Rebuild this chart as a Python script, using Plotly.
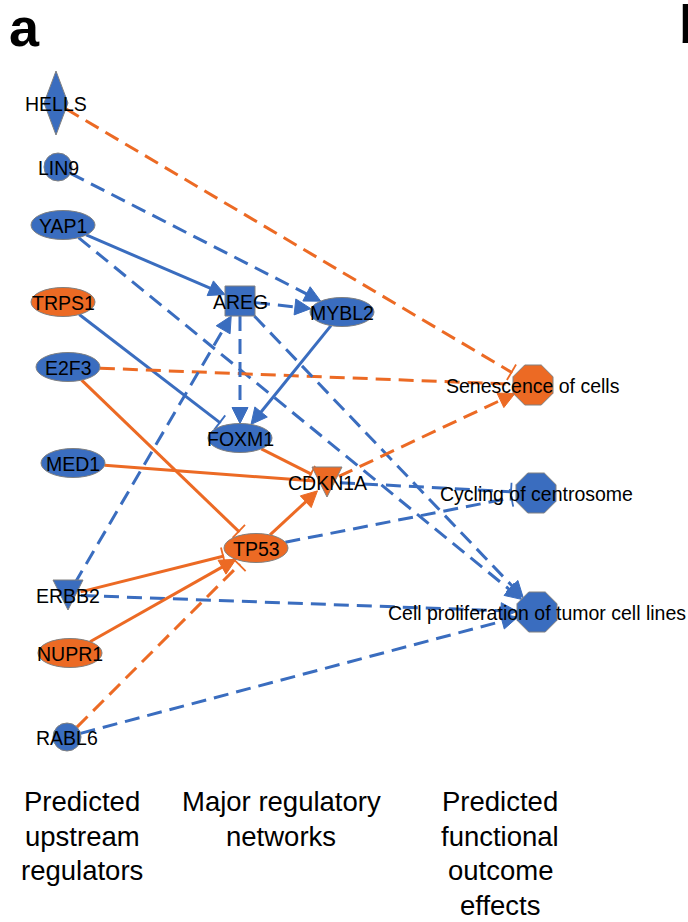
import math
import plotly.graph_objects as go

# ---------------- data ----------------
node_names = ["HELLS", "LIN9", "YAP1", "TRPS1", "E2F3", "MED1", "ERBB2", "NUPR1", "RABL6",
              "AREG", "MYBL2", "FOXM1", "CDKN1A", "TP53",
              "Senescence of cells", "Cycling of centrosome",
              "Cell proliferation of tumor cell lines"]
node_x = [56, 58, 63, 63, 68, 73, 68, 70, 67, 240, 342, 240, 327, 256, 533, 536, 537]
node_y = [103, 167, 225, 302, 367, 463, 595, 653, 737, 301, 312, 438, 482, 548, 385, 493, 612]
node_shape = ["diamond", "circle", "ellipse", "ellipse", "ellipse", "ellipse", "triangle",
              "ellipse", "circle", "square", "ellipse", "ellipse", "triangle", "ellipse",
              "octagon", "octagon", "octagon"]
node_state = ["down", "down", "down", "up", "down", "down", "down", "up", "down",
              "down", "down", "down", "up", "up", "up", "down", "down"]

edge_source = ["HELLS", "LIN9", "YAP1", "YAP1", "TRPS1", "E2F3", "E2F3", "MED1", "FOXM1",
               "AREG", "AREG", "AREG", "MYBL2", "ERBB2", "ERBB2", "ERBB2", "NUPR1",
               "RABL6", "RABL6", "TP53", "CDKN1A", "CDKN1A", "TP53"]
edge_target = ["Senescence of cells", "MYBL2", "AREG", "Cell proliferation of tumor cell lines",
               "FOXM1", "Senescence of cells", "TP53", "CDKN1A", "CDKN1A",
               "MYBL2", "FOXM1", "Cell proliferation of tumor cell lines", "FOXM1",
               "AREG", "TP53", "Cell proliferation of tumor cell lines", "TP53",
               "TP53", "Cell proliferation of tumor cell lines", "CDKN1A",
               "Senescence of cells", "Cycling of centrosome", "Cycling of centrosome"]
edge_state = ["up", "down", "down", "down", "down", "up", "up", "up", "up",
              "down", "down", "down", "down", "down", "up", "down", "up",
              "up", "down", "up", "up", "down", "down"]
edge_predicted = [True, True, False, True, False, True, False, False, False,
                  True, True, True, False, True, False, True, False,
                  True, True, False, True, True, True]
edge_effect = ["inhibit", "activate", "activate", "activate", "inhibit", "none", "inhibit",
               "none", "inhibit", "activate", "activate", "activate", "activate",
               "activate", "inhibit", "activate", "activate", "inhibit", "activate",
               "activate", "activate", "inhibit", "inhibit"]

column_x = [82, 281, 500]
column_lines = [["Predicted", "upstream", "regulators"],
                ["Major regulatory", "networks"],
                ["Predicted", "functional", "outcome", "effects"]]
line_y = [801, 836, 870, 905]

# ---------------- styling ----------------
BLUE = "#3a6dbf"
ORANGE = "#ec6a24"
OUTLINE = "#808080"
FONT = "Liberation Sans, Arial, sans-serif"
col = {"up": ORANGE, "down": BLUE}

half = {"diamond": (12, 32), "circle": (14, 14), "ellipse": (32, 14.5), "triangle": (15, 15),
        "square": (15, 15), "octagon": (20, 20)}

idx = {n: i for i, n in enumerate(node_names)}


def boundary(i, ux, uy):
    """distance from node centre to its outline along unit direction (ux, uy)"""
    s = node_shape[i]
    a, b = half[s]
    if s == "diamond":
        return 1.0 / (abs(ux) / a + abs(uy) / b)
    if s == "square":
        return 1.0 / max(abs(ux) / a, abs(uy) / b)
    if s == "triangle":
        return 13.0
    return 1.0 / math.sqrt((ux / a) ** 2 + (uy / b) ** 2)


fig = go.Figure()

AL, AW = 16, 8      # arrowhead length / half width
TB, TG = 9, 5       # T-bar half length / gap

for s, t, st, pr, ef in zip(edge_source, edge_target, edge_state, edge_predicted, edge_effect):
    i, j = idx[s], idx[t]
    x0, y0, x1, y1 = node_x[i], node_y[i], node_x[j], node_y[j]
    L = math.hypot(x1 - x0, y1 - y0)
    ux, uy = (x1 - x0) / L, (y1 - y0) / L
    px, py = -uy, ux
    d0 = boundary(i, ux, uy)
    d1 = boundary(j, -ux, -uy)
    sx, sy = x0 + ux * d0, y0 + uy * d0
    ex, ey = x1 - ux * d1, y1 - uy * d1
    c = col[st]
    if ef == "activate":
        lx, ly = ex - ux * AL, ey - uy * AL
    elif ef == "inhibit":
        lx, ly = ex - ux * TG, ey - uy * TG
    else:
        lx, ly = ex, ey
    fig.add_trace(go.Scatter(x=[sx, lx + ux * 1.0], y=[sy, ly + uy * 1.0], mode="lines",
                             line=dict(color=c, width=3, dash="15px,8px" if pr else "solid"),
                             hoverinfo="skip", showlegend=False))
    if ef == "activate":
        bx, by = ex - ux * AL, ey - uy * AL
        fig.add_trace(go.Scatter(x=[ex, bx + px * AW, bx - px * AW, ex],
                                 y=[ey, by + py * AW, by - py * AW, ey],
                                 mode="lines", fill="toself", fillcolor=c,
                                 line=dict(color=c, width=1), hoverinfo="skip",
                                 showlegend=False))
    elif ef == "inhibit":
        fig.add_trace(go.Scatter(x=[lx + px * TB, lx - px * TB], y=[ly + py * TB, ly - py * TB],
                                 mode="lines", line=dict(color=c, width=1.8),
                                 hoverinfo="skip", showlegend=False))

shapes = []
for i, n in enumerate(node_names):
    cx, cy = node_x[i], node_y[i]
    s = node_shape[i]
    a, b = half[s]
    fc = col[node_state[i]]
    ln = dict(color=OUTLINE, width=1)
    if s in ("ellipse", "circle"):
        shapes.append(dict(type="circle", xref="x", yref="y", x0=cx - a, x1=cx + a,
                           y0=cy - b, y1=cy + b, fillcolor=fc, line=ln, layer="above"))
    elif s == "square":
        shapes.append(dict(type="rect", xref="x", yref="y", x0=cx - a, x1=cx + a,
                           y0=cy - b, y1=cy + b, fillcolor=fc, line=ln, layer="above"))
    else:
        if s == "diamond":
            pts = [(cx, cy - b), (cx + a, cy), (cx, cy + b), (cx - a, cy)]
        elif s == "triangle":
            pts = [(cx - a, cy - b), (cx + a, cy - b), (cx, cy + b)]
        else:
            r = a / math.cos(math.pi / 8)
            pts = [(cx + r * math.cos(math.pi / 8 + k * math.pi / 4),
                    cy + r * math.sin(math.pi / 8 + k * math.pi / 4)) for k in range(8)]
        path = "M " + " L ".join(f"{px_:.2f},{py_:.2f}" for px_, py_ in pts) + " Z"
        shapes.append(dict(type="path", xref="x", yref="y", path=path, fillcolor=fc,
                           line=ln, layer="above"))

annotations = []
for i, n in enumerate(node_names):
    annotations.append(dict(x=node_x[i], y=node_y[i] + 1, xref="x", yref="y", text=n,
                            showarrow=False, xanchor="center", yanchor="middle",
                            font=dict(family=FONT, size=19.5, color="black")))

for cxv, lines in zip(column_x, column_lines):
    for k, txt in enumerate(lines):
        annotations.append(dict(x=cxv, y=line_y[k], xref="x", yref="y", text=txt,
                                showarrow=False, xanchor="center", yanchor="middle",
                                font=dict(family=FONT, size=27.5, color="black")))

annotations.append(dict(x=7, y=27, xref="x", yref="y", text="<b>a</b>", showarrow=False,
                        xanchor="left", yanchor="middle",
                        font=dict(family=FONT, size=54, color="black")))
annotations.append(dict(x=677, y=24, xref="x", yref="y", text="<b>b</b>", showarrow=False,
                        xanchor="left", yanchor="middle",
                        font=dict(family=FONT, size=54, color="black")))

fig.update_layout(
    width=688, height=922,
    margin=dict(l=0, r=0, t=0, b=0),
    paper_bgcolor="white", plot_bgcolor="white",
    xaxis=dict(range=[0, 688], visible=False, fixedrange=True),
    yaxis=dict(range=[922, 0], visible=False, fixedrange=True),
    shapes=shapes, annotations=annotations, showlegend=False,
)

fig.write_html("out.html", config={"displayModeBar": False},
               post_script="document.body.style.margin='0';document.body.style.overflow='hidden';")
